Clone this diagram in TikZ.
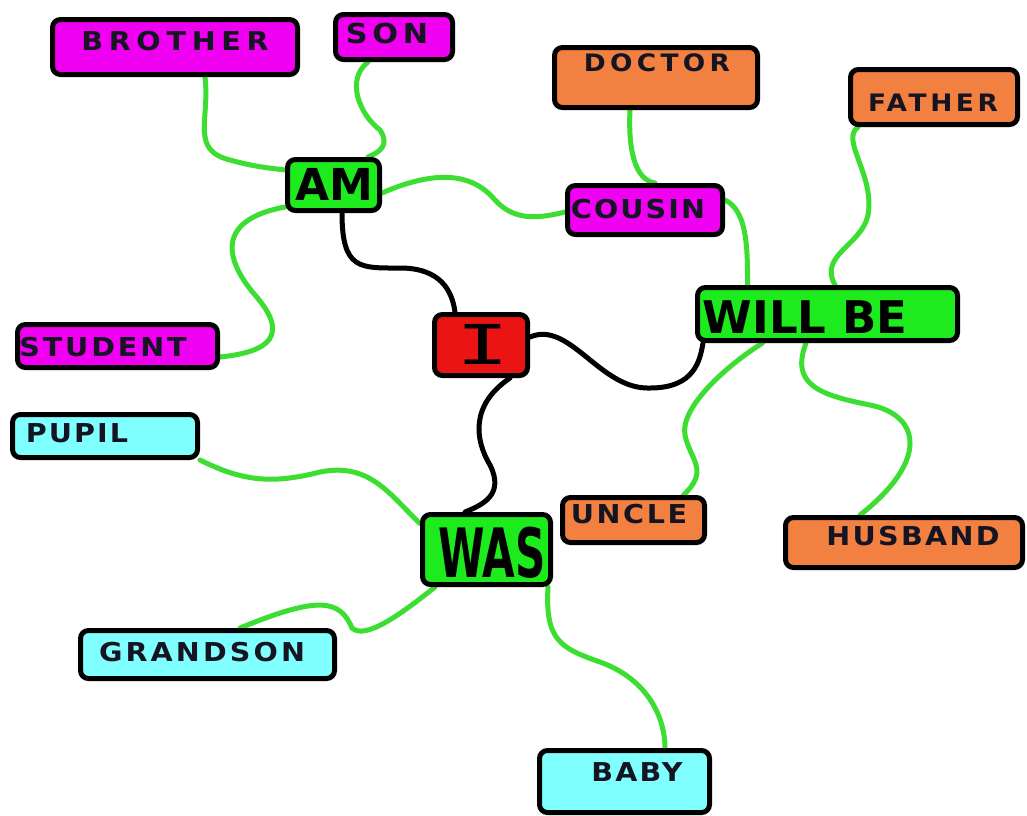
\documentclass[tikz,border=0pt]{standalone}
\usepackage{fontspec}
\usetikzlibrary{calc}
\newfontfamily\labfont{DejaVu Sans}[FakeStretch=1.1]
\newfontfamily\handfont{DejaVu Sans}
\newfontfamily\ifont{DejaVu Sans Mono}
\definecolor{mag}{RGB}{240,0,240}
\definecolor{org}{RGB}{242,128,64}
\definecolor{grn}{RGB}{30,235,30}
\definecolor{cyn}{RGB}{128,255,255}
\definecolor{rd}{RGB}{235,20,20}
\definecolor{lgrn}{RGB}{60,222,50}
\definecolor{txt}{RGB}{20,20,35}
\pgfdeclarelayer{bg}
\pgfsetlayers{bg,main}
\newcommand\labsz[2]{\labfont\bfseries\addfontfeatures{LetterSpace=#2}\fontsize{#1}{#1}\selectfont}
\begin{document}
\begin{tikzpicture}[x=1pt,y=-1pt,
  box/.style={draw=black,line width=5pt,rounded corners=8pt,inner sep=0pt},
  mbox/.style={box,fill=mag},
  obox/.style={box,fill=org},
  gbox/.style={box,fill=grn},
  cbox/.style={box,fill=cyn},
  rbox/.style={box,fill=rd},
  lab/.style={text=txt,inner sep=0pt},
  hand/.style={text=black,inner sep=0pt},
  gline/.style={draw=lgrn,line width=5pt,line cap=round},
  bline/.style={draw=black,line width=5pt,line cap=round}]
\useasboundingbox (0,0) rectangle (1027,815);

% boxes
\node[mbox,minimum width=245pt,minimum height=55pt] (brother) at (175,47) {};
\node[mbox,minimum width=117pt,minimum height=45pt] (son) at (394,37) {};
\node[gbox,minimum width=92pt,minimum height=51pt] (am) at (333.5,185) {};
\node[mbox,minimum width=200pt,minimum height=43pt] (student) at (117.5,346) {};
\node[rbox,minimum width=93pt,minimum height=61pt] (i) at (481,345) {};
\node[obox,minimum width=203pt,minimum height=60pt] (doctor) at (656,77.5) {};
\node[obox,minimum width=167pt,minimum height=55pt] (father) at (934,97) {};
\node[mbox,minimum width=155pt,minimum height=49pt] (cousin) at (645,210) {};
\node[gbox,minimum width=260pt,minimum height=53pt] (willbe) at (827.5,314) {};
\node[cbox,minimum width=185pt,minimum height=43pt] (pupil) at (105,436) {};
\node[gbox,minimum width=128pt,minimum height=70pt] (was) at (486.5,549.5) {};
\node[obox,minimum width=142pt,minimum height=45pt] (uncle) at (633.5,520) {};
\node[obox,minimum width=237pt,minimum height=50pt] (husband) at (904,542.5) {};
\node[cbox,minimum width=254pt,minimum height=48pt] (grandson) at (207.5,654.5) {};
\node[cbox,minimum width=170pt,minimum height=62pt] (baby) at (624.5,781.5) {};

% texts
\node[lab,font=\labsz{26}{22}] (brotherT) at (175,41) {BROTHER};
\node[lab,font=\labsz{27.5}{17}] (sonT) at (387,33) {SON};
\node[lab,font=\labsz{26}{11}] (studentT) at (103,347) {STUDENT};
\node[lab,font=\labsz{24}{18}] (doctorT) at (657,63) {DOCTOR};
\node[lab,font=\labsz{24}{15}] (fatherT) at (933,103) {FATHER};
\node[lab,font=\labsz{26}{8}] (cousinT) at (638,209) {COUSIN};
\node[lab,font=\labsz{26}{8}] (pupilT) at (77,433) {PUPIL};
\node[lab,font=\labsz{26}{12}] (grandsonT) at (202,652) {GRANDSON};
\node[lab,font=\labsz{26}{10}] (uncleT) at (629,514) {UNCLE};
\node[lab,font=\labsz{26}{9}] (husbandT) at (913,536) {HUSBAND};
\node[lab,font=\labsz{26}{8}] (babyT) at (637,772) {BABY};
\node[hand,font=\handfont\bfseries\fontsize{44}{44}\selectfont] (amT) at (334,184) {AM};
\node[hand,font=\ifont\fontsize{55}{55}\selectfont] (iT) at (483,344) {\scalebox{1.6}[1]{I}};
\node[hand,font=\handfont\bfseries\fontsize{45}{45}\selectfont] (willbeT) at (805,317) {WILL BE};
\node[hand,font=\handfont\bfseries\fontsize{68}{68}\selectfont] (wasT) at (492,553) {\scalebox{0.62}[1]{WAS}};

\begin{pgfonlayer}{bg}
\fill[white] (0,0) rectangle (1027,815);
% black connectors
\draw[bline] ($(am.south)+(8.5,0)$) .. controls (342,270) and (360,268) .. (400,268)
   .. controls (440,268) and (452,290) .. ($(i.north)+(-26,0)$);
\draw[bline] ($(i.east)+(0,-8)$) .. controls (570,320) and (600,390) .. (650,388)
   .. controls (695,388) and (700,360) .. ($(willbe.south west)+(8,0)$);
\draw[bline] ($(i.south)+(29,0)$) .. controls (470,405) and (475,440) .. (490,465)
   .. controls (505,495) and (482,505) .. ($(was.north)+(-21.5,0)$);
% green connectors
\draw[gline] ($(brother.south)+(30,0)$) .. controls (210,120) and (190,150) .. (230,160)
   .. controls (255,167) and (270,168) .. ($(am.west)+(0,-15)$);
\draw[gline] ($(son.south)+(-26,0)$) .. controls (345,80) and (360,115) .. (380,130)
   .. controls (390,145) and (380,152) .. ($(am.north)+(34.5,0)$);
\draw[gline] ($(am.west)+(0,22)$) .. controls (215,220) and (225,260) .. (255,295)
   .. controls (290,335) and (270,352) .. ($(student.east)+(0,11)$);
\draw[gline] ($(am.east)+(0,8)$) .. controls (430,172) and (470,170) .. (495,200)
   .. controls (515,222) and (540,218) .. ($(cousin.west)+(0,2)$);
\draw[gline] ($(doctor.south)+(-26,0)$) .. controls (628,150) and (635,180) .. ($(cousin.north)+(10,0)$);
\draw[gline] ($(cousin.east)+(0,-10)$) .. controls (745,210) and (748,240) .. ($(willbe.north)+(-80,0)$);
\draw[gline] ($(father.south)+(-76,0)$) .. controls (840,140) and (875,175) .. (868,215)
   .. controls (862,245) and (818,255) .. ($(willbe.north)+(7.5,0)$);
\draw[gline] ($(willbe.south)+(-65,0)$) .. controls (720,370) and (680,410) .. (685,435)
   .. controls (690,460) and (710,470) .. ($(uncle.north)+(50,0)$);
\draw[gline] ($(willbe.south)+(-21.5,0)$) .. controls (790,385) and (820,395) .. (870,405)
   .. controls (920,415) and (930,460) .. ($(husband.north)+(-44,0)$);
\draw[gline] (pupil.south east) .. controls (240,480) and (270,485) .. (320,472)
   .. controls (370,462) and (390,495) .. ($(was.west)+(0,-26)$);
\draw[gline] ($(was.south)+(-51.5,0)$) .. controls (400,615) and (365,640) .. (352,628)
   .. controls (340,600) and (320,595) .. ($(grandson.north)+(32.5,0)$);
\draw[gline] ($(was.south east)+(-5,0)$) .. controls (545,640) and (560,648) .. (600,662)
   .. controls (650,680) and (665,720) .. ($(baby.north)+(40.5,0)$);
\end{pgfonlayer}
\end{tikzpicture}
\end{document}
